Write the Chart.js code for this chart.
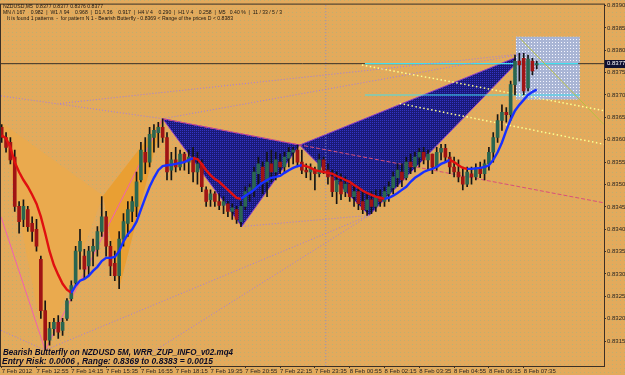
<!DOCTYPE html>
<html><head><meta charset="utf-8">
<script src="https://cdn.jsdelivr.net/npm/chart.js@4.4.1/dist/chart.umd.min.js"></script>
<style>html,body{margin:0;padding:0;background:#E2A95D;overflow:hidden}#wrap{width:625px;height:375px}</style>
</head><body><div id="wrap"><canvas id="c" width="625" height="375"></canvas></div>
<script>
// ---------- DATA ----------
const xTickLabels = ['7 Feb 2012','7 Feb 12:55','7 Feb 14:15','7 Feb 15:35','7 Feb 16:55','7 Feb 18:15','7 Feb 19:35','7 Feb 20:55','7 Feb 22:15','7 Feb 23:35','8 Feb 00:55','8 Feb 02:15','8 Feb 03:35','8 Feb 04:55','8 Feb 06:15','8 Feb 07:35'];
const barsPerTick = 8;
const priceTicks = [0.8315,0.8320,0.8325,0.8330,0.8335,0.8340,0.8345,0.8350,0.8355,0.8360,0.8365,0.8370,0.8375,0.8380,0.8385,0.8390];
const lastPrice = 0.8377;

const opens = [
0.83628,0.83605,0.83594,0.83561,0.83451,0.83422,0.83444,0.83413,0.83400,0.83333,
0.83218,0.83152,0.83178,0.83192,0.83174,0.83201,0.83245,0.83280,0.83351,0.83340,
0.83318,0.83351,0.83355,0.83395,0.83428,0.83362,0.83324,0.83296,0.83378,0.83413,
0.83440,0.83451,0.83510,0.83572,0.83550,0.83605,0.83616,0.83628,0.83605,0.83532,
0.83555,0.83539,0.83568,0.83550,0.83561,0.83528,0.83546,0.83488,0.83466,0.83479,
0.83462,0.83453,0.83457,0.83440,0.83444,0.83417,0.83451,0.83484,0.83488,0.83524,
0.83539,0.83506,0.83546,0.83528,0.83550,0.83539,0.83559,0.83572,0.83577,0.83550,
0.83532,0.83528,0.83532,0.83524,0.83555,0.83532,0.83517,0.83484,0.83506,0.83484,
0.83501,0.83473,0.83484,0.83462,0.83444,0.83466,0.83451,0.83473,0.83462,0.83479,
0.83493,0.83515,0.83528,0.83515,0.83550,0.83539,0.83561,0.83572,0.83555,0.83568,
0.83539,0.83572,0.83581,0.83561,0.83539,0.83528,0.83517,0.83501,0.83524,0.83517,
0.83537,0.83524,0.83546,0.83572,0.83605,0.83643,0.83661,0.83656,0.83723,0.83776,
0.83782,0.83716,0.83776,0.83767];
const highs = [
0.83634,0.83616,0.83605,0.83577,0.83462,0.83466,0.83451,0.83428,0.83422,0.83340,
0.83240,0.83192,0.83201,0.83207,0.83201,0.83245,0.83285,0.83362,0.83400,0.83355,
0.83362,0.83378,0.83406,0.83473,0.83440,0.83373,0.83351,0.83395,0.83435,0.83462,
0.83473,0.83528,0.83594,0.83605,0.83628,0.83634,0.83639,0.83647,0.83616,0.83572,
0.83583,0.83577,0.83572,0.83577,0.83583,0.83572,0.83555,0.83495,0.83488,0.83484,
0.83479,0.83473,0.83462,0.83457,0.83451,0.83462,0.83495,0.83501,0.83539,0.83561,
0.83550,0.83572,0.83577,0.83572,0.83568,0.83572,0.83583,0.83583,0.83588,0.83577,
0.83546,0.83546,0.83539,0.83568,0.83561,0.83546,0.83532,0.83528,0.83524,0.83517,
0.83506,0.83501,0.83495,0.83484,0.83479,0.83484,0.83488,0.83488,0.83495,0.83506,
0.83528,0.83546,0.83546,0.83561,0.83568,0.83572,0.83581,0.83583,0.83577,0.83568,
0.83583,0.83590,0.83590,0.83572,0.83561,0.83555,0.83539,0.83539,0.83539,0.83546,
0.83550,0.83555,0.83583,0.83616,0.83656,0.83678,0.83672,0.83731,0.83789,0.83793,
0.83793,0.83789,0.83782,0.83776];
const lows = [
0.83594,0.83572,0.83546,0.83440,0.83391,0.83406,0.83395,0.83373,0.83351,0.83201,
0.83130,0.83141,0.83163,0.83156,0.83163,0.83196,0.83240,0.83274,0.83311,0.83289,
0.83296,0.83318,0.83340,0.83384,0.83340,0.83296,0.83285,0.83267,0.83362,0.83384,
0.83417,0.83428,0.83506,0.83524,0.83539,0.83572,0.83583,0.83594,0.83510,0.83510,
0.83528,0.83532,0.83532,0.83524,0.83506,0.83501,0.83484,0.83451,0.83451,0.83451,
0.83444,0.83435,0.83428,0.83422,0.83413,0.83406,0.83444,0.83462,0.83473,0.83495,
0.83479,0.83473,0.83506,0.83510,0.83524,0.83528,0.83539,0.83546,0.83539,0.83524,
0.83515,0.83510,0.83488,0.83517,0.83524,0.83501,0.83473,0.83457,0.83466,0.83473,
0.83462,0.83451,0.83444,0.83435,0.83431,0.83435,0.83440,0.83451,0.83451,0.83462,
0.83479,0.83495,0.83495,0.83510,0.83524,0.83528,0.83539,0.83546,0.83532,0.83524,
0.83532,0.83555,0.83550,0.83524,0.83517,0.83506,0.83488,0.83495,0.83501,0.83510,
0.83515,0.83510,0.83532,0.83550,0.83594,0.83621,0.83639,0.83643,0.83700,0.83731,
0.83700,0.83709,0.83745,0.83758];
const closes = [
0.83605,0.83583,0.83555,0.83451,0.83417,0.83451,0.83406,0.83395,0.83362,0.83218,
0.83152,0.83178,0.83192,0.83170,0.83192,0.83240,0.83274,0.83351,0.83373,0.83311,
0.83351,0.83362,0.83395,0.83428,0.83362,0.83318,0.83296,0.83378,0.83417,0.83444,
0.83462,0.83506,0.83577,0.83550,0.83612,0.83621,0.83628,0.83605,0.83528,0.83555,
0.83539,0.83568,0.83550,0.83561,0.83528,0.83546,0.83495,0.83462,0.83479,0.83462,
0.83453,0.83462,0.83440,0.83448,0.83422,0.83451,0.83484,0.83493,0.83528,0.83546,
0.83506,0.83550,0.83528,0.83555,0.83539,0.83561,0.83572,0.83577,0.83550,0.83532,
0.83528,0.83537,0.83524,0.83555,0.83532,0.83517,0.83484,0.83510,0.83479,0.83501,
0.83473,0.83484,0.83457,0.83444,0.83466,0.83451,0.83473,0.83462,0.83484,0.83495,
0.83517,0.83532,0.83510,0.83550,0.83539,0.83561,0.83572,0.83555,0.83568,0.83539,
0.83572,0.83581,0.83561,0.83539,0.83528,0.83517,0.83501,0.83528,0.83517,0.83537,
0.83524,0.83546,0.83572,0.83605,0.83643,0.83661,0.83656,0.83723,0.83776,0.83767,
0.83709,0.83780,0.83754,0.83770];
const maValues = [
0.83610,0.83603,0.83583,0.83550,0.83528,0.83510,0.83495,0.83477,0.83457,0.83428,
0.83391,0.83351,0.83320,0.83298,0.83278,0.83265,0.83258,0.83274,0.83285,0.83289,
0.83296,0.83307,0.83316,0.83329,0.83336,0.83336,0.83338,0.83351,0.83373,0.83389,
0.83400,0.83417,0.83444,0.83470,0.83495,0.83515,0.83532,0.83541,0.83543,0.83544,
0.83546,0.83548,0.83550,0.83555,0.83559,0.83557,0.83546,0.83532,0.83521,0.83512,
0.83506,0.83497,0.83488,0.83479,0.83470,0.83468,0.83475,0.83481,0.83488,0.83497,
0.83504,0.83510,0.83515,0.83517,0.83519,0.83526,0.83532,0.83537,0.83541,0.83543,
0.83541,0.83537,0.83532,0.83530,0.83528,0.83526,0.83524,0.83519,0.83515,0.83510,
0.83506,0.83499,0.83493,0.83486,0.83481,0.83477,0.83473,0.83470,0.83468,0.83470,
0.83475,0.83481,0.83488,0.83495,0.83506,0.83515,0.83521,0.83528,0.83532,0.83535,
0.83539,0.83546,0.83550,0.83555,0.83550,0.83543,0.83537,0.83535,0.83535,0.83536,
0.83537,0.83539,0.83543,0.83555,0.83572,0.83594,0.83621,0.83645,0.83665,0.83678,
0.83689,0.83700,0.83707,0.83712];

// Harmonic pattern points (bar index, price): X, A, B, C, D
const bearBarIdx = [37, 55.2, 68.5, 84.5, 120.5];
const bearPrice  = [0.83647, 0.83406, 0.83588, 0.83431, 0.83793];
const bullBarIdx = [-0.16, 10, 23.3, 27, 37];
const bullPrice  = [0.83639, 0.83130, 0.83475, 0.83267, 0.83647];
// D price range box
const rangeBarIdx = [118.2, 132.9];
const rangePrice = [0.8369, 0.8383];
// auxiliary lines [barIdx1, price1, barIdx2, price2]
const lavenderLines = [
  [-0.16, 0.83698, 37, 0.83647],
  [37, 0.83647, 120.5, 0.83793],
  [13.4, 0.83681, 120.5, 0.83793],
  [-0.16, 0.83174, 10, 0.83130],
  [10, 0.83130, 84.5, 0.83431],
  [29.5, 0.83094, 84.5, 0.83431],
  [55.2, 0.83406, 84.5, 0.83431]
];
const pinkLines = [
  [-0.16, 0.83428, 10, 0.83130],
  [10, 0.83130, 37, 0.83647]
];
const xbExtLine = [37, 0.83647, 138.46, 0.83459];
const yellowLines = [
  [82.8, 0.83767, 138.46, 0.83665],
  [91.5, 0.83681, 138.46, 0.83590]
];
const oliveLine = [119.1, 0.83827, 138.46, 0.83634];
const cyanLines = [
  [83.5, 0.8370, 132.9, 0.8370],
  [83.5, 0.8377, 132.5, 0.8377]
];
const sessionLine = [74.5, 0.83094, 74.5, 0.83902];

// ---------- HELPERS ----------
const cv = document.getElementById('c');
const mainCtx = cv.getContext('2d');
function makePattern(base, dot, size, dots){
  const c = document.createElement('canvas'); c.width = size; c.height = size;
  const g = c.getContext('2d'); g.fillStyle = base; g.fillRect(0,0,size,size);
  g.fillStyle = dot; dots.forEach(([x,y]) => g.fillRect(x,y,1,1));
  return mainCtx.createPattern(c, 'repeat');
}
const bgPattern = makePattern('#E3AA5C', '#BDB070', 4, [[0,0]]);
const navyPattern = makePattern('#1A1A78', '#3434C4', 2, [[0,0]]);
const boxPattern = makePattern('#A9B5D5', '#F4F6FF', 3, [[0,0]]);

function poly(xs, ys, idx){ const pts = idx.map(i => ({x: xs[i], y: ys[i]})); pts.push(pts[0]); return pts; }
function seg(l){ return [{x:l[0], y:l[1]}, {x:l[2], y:l[3]}]; }
function lineDs(l, color, dash, width, order){
  return {type:'line', data: seg(l), borderColor: color, borderDash: dash, borderWidth: width, pointRadius: 0, fill: false, order, tension: 0};
}
function shapeDs(pts, fillStyle, border, order){
  return {type:'line', data: pts, backgroundColor: fillStyle, borderColor: border || 'rgba(0,0,0,0)', borderWidth: border ? 1 : 0, pointRadius: 0, fill: 'shape', order, tension: 0};
}

const idx = opens.map((_, i) => i);
const bull = idx.map(i => closes[i] >= opens[i]);

const datasets = [];
datasets.push(shapeDs(poly(bullBarIdx, bullPrice, [0,1,2]), '#EAAA4E', null, 30));
datasets.push(shapeDs(poly(bullBarIdx, bullPrice, [2,3,4]), '#E99F33', null, 29));
datasets.push(shapeDs(poly(bearBarIdx, bearPrice, [0,1,2]), navyPattern, '#8A3CC8', 28));
datasets.push(shapeDs(poly(bearBarIdx, bearPrice, [2,3,4]), navyPattern, '#8A3CC8', 27));
datasets.push(shapeDs([
  {x: rangeBarIdx[0], y: rangePrice[0]}, {x: rangeBarIdx[1], y: rangePrice[0]},
  {x: rangeBarIdx[1], y: rangePrice[1]}, {x: rangeBarIdx[0], y: rangePrice[1]},
  {x: rangeBarIdx[0], y: rangePrice[0]}], boxPattern, null, 26));
datasets.push(lineDs(sessionLine, '#8E8EC8', [1,2], 1, 25));
datasets.push(lineDs([-0.16, lastPrice, 138.46, lastPrice], '#3A3026', [], 1, 24));
cyanLines.forEach(l => datasets.push(lineDs(l, '#40E0F0', [], 1.2, 23)));
lavenderLines.forEach(l => datasets.push(lineDs(l, '#A47CE0', [1,2], 1, 22)));
yellowLines.forEach(l => datasets.push(lineDs(l, '#FFFF90', [1.5,2.5], 1.5, 22)));
datasets.push(lineDs(oliveLine, '#B8C040', [], 1, 22));
pinkLines.forEach(l => datasets.push(lineDs(l, '#F060B0', [], 1, 21)));
datasets.push(lineDs(xbExtLine, '#D8507A', [4,2], 1, 20));
// candles
datasets.push({type:'bar', data: idx.map(i => ({x: i, y: [lows[i], highs[i]]})), backgroundColor: '#141414', barThickness: 1, grouped: false, borderWidth: 0, order: 6});
datasets.push({type:'bar', data: idx.map(i => ({x: i, y: [opens[i], closes[i]]})), backgroundColor: idx.map(i => bull[i] ? '#2A6650' : '#A01414'), barThickness: 3, minBarLength: 1, grouped: false, borderWidth: 0, order: 5});
// moving average coloured by slope
datasets.push({type:'line', data: idx.map(i => ({x: i, y: maValues[i]})), borderWidth: 2.4, pointRadius: 0, fill: false, tension: 0, order: 1,
  borderColor: '#1830FF',
  segment: { borderColor: c => c.p1.parsed.y < c.p0.parsed.y ? '#E01010' : '#1830FF' }});

const bgPlugin = { id: 'bgfill', beforeDraw(chart){ const c = chart.ctx; c.save(); c.fillStyle = bgPattern; c.fillRect(0,0,chart.width,chart.height); c.restore(); } };

const infoLines = [
  'NZDUSD,M5  0.8377 0.8377 0.8376 0.8377',
  'MN /\\ 167    0.982  |  W1 /\\ 94    0.968  |  D1 /\\ 36    0.917  |  H4 \\/ 4    0.290  |  H1 \\/ 4    0.258  |  M5   0.40 %  |  11 / 33 / 5 / 3',
  'It is found 1 patterns  -  for pattern N 1 - Bearish Butterfly - 0.8369 < Range of the prices D < 0.8383'
];
const footerLines = [
  'Bearish Butterfly on NZDUSD 5M, WRR_ZUP_INFO_v02.mq4',
  'Entry Risk: 0.0006 , Range: 0.8369 to 0.8383 = 0.0015'
];
const textPlugin = { id: 'texts', afterDraw(chart){
  const c = chart.ctx, a = chart.chartArea; c.save();
  c.strokeStyle = '#3A3026'; c.lineWidth = 1;
  c.strokeRect(a.left - 0.5, a.top - 0.5, a.right - a.left + 1, a.bottom - a.top + 1);
  c.fillStyle = '#1A1410'; c.font = '6px "Liberation Sans"'; c.textBaseline = 'alphabetic';
  c.fillText(infoLines[0], 3, 7.5, 100);
  c.fillText(infoLines[1], 3, 13.5, 279);
  c.fillText(infoLines[2], 7, 19.5, 226);
  c.font = 'italic bold 9px "Liberation Sans"'; c.fillStyle = '#0A0A24';
  c.fillText(footerLines[0], 3, 355, 230);
  c.fillText(footerLines[1], 2, 364, 211);
  const yp = chart.scales.y.getPixelForValue(lastPrice);
  c.fillStyle = '#101030'; c.fillRect(605, Math.round(yp) - 4, 20, 8);
  c.fillStyle = '#FFFFFF'; c.font = '6px "Liberation Sans"'; c.textBaseline = 'middle';
  c.fillText(lastPrice.toFixed(4), 607, yp);
  c.restore();
}};

new Chart(cv, {
  type: 'bar',
  data: { datasets },
  plugins: [bgPlugin, textPlugin],
  options: {
    responsive: false, animation: false, devicePixelRatio: 1,
    layout: { padding: { left: 1, top: 1, right: 0, bottom: 0 } },
    plugins: { legend: { display: false }, tooltip: { enabled: false } },
    scales: {
      x: { type: 'linear', min: -0.16, max: 138.46, offset: false,
        grid: { display: true, drawOnChartArea: false, drawTicks: true, tickLength: 2, color: '#3A3026', offset: false },
        border: { display: true, color: '#3A3026' },
        afterBuildTicks: s => { s.ticks = xTickLabels.map((_, i) => ({ value: i * barsPerTick })); },
        afterFit: s => { s.height = 9; },
        ticks: { autoSkip: false, maxRotation: 0, minRotation: 0, align: 'start', padding: 0,
          font: { family: 'Liberation Sans', size: 6 }, color: '#2A2420',
          callback: v => { const k = Math.round(v / barsPerTick); return xTickLabels[k] !== undefined ? xTickLabels[k] : ''; } }
      },
      y: { position: 'right', min: 0.830944, max: 0.83902,
        grid: { display: true, drawOnChartArea: false, drawTicks: true, tickLength: 2, color: '#3A3026' },
        border: { display: true, color: '#3A3026' },
        afterBuildTicks: s => { s.ticks = priceTicks.map(v => ({ value: v })); },
        afterFit: s => { s.width = 21; },
        ticks: { padding: 1, font: { family: 'Liberation Sans', size: 6 }, color: '#2A2420', callback: v => v.toFixed(4) }
      }
    }
  }
});
</script></body></html>
